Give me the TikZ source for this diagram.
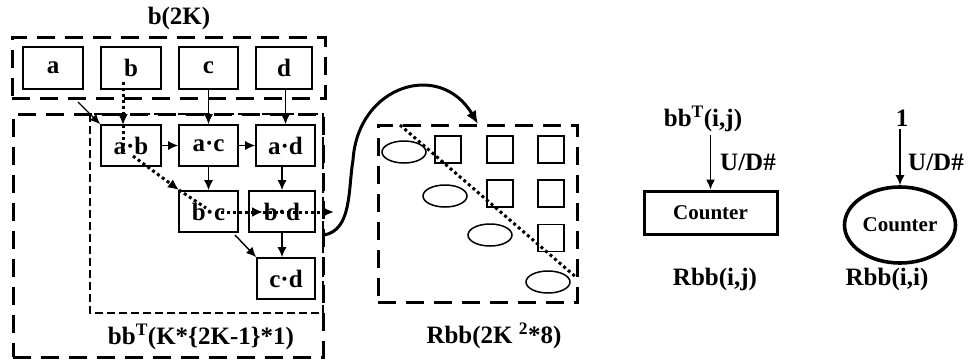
\documentclass[tikz,border=0pt]{standalone}
\usepackage{fontspec}
\setmainfont{Liberation Serif}
\usetikzlibrary{arrows.meta,shapes.geometric}
\begin{document}
\begin{tikzpicture}[x=1pt,y=-1pt,
  font=\fontsize{25}{29}\selectfont\bfseries,
  cell/.style={draw,line width=1.6pt,rectangle,inner sep=0pt,minimum height=41pt},
  bigdash/.style={draw,line width=3pt,dash pattern=on 18pt off 10pt,rectangle,inner sep=0pt},
  thindash/.style={draw,line width=1.1pt,dash pattern=on 8pt off 4pt},
  arr/.style={line width=1.4pt,-{Latex[length=10pt,width=9pt]}},
  dotarr/.style={line width=3pt,dash pattern=on 3pt off 3pt,-{Latex[length=11pt,width=10pt]}},
  dotline/.style={line width=3pt,dash pattern=on 3pt off 3pt},
  sq/.style={draw,line width=1.5pt,rectangle,inner sep=0pt,minimum width=26pt,minimum height=27pt},
  ell/.style={draw,line width=1.5pt,ellipse,inner sep=0pt,minimum width=44pt,minimum height=22pt},
  lbl/.style={inner sep=0pt}]
\useasboundingbox (0,0) rectangle (969,360);

% top group
\node[lbl] (title) at (179,18) {b(2K)};
\node[bigdash,minimum width=313pt,minimum height=61pt] (topbox) at (168.5,67.5) {};
\node[cell,minimum width=60pt,minimum height=42pt] (a) at (53,68) {a};
\node[cell,minimum width=60pt,minimum height=42pt] (b) at (131,68) {b};
\node[cell,minimum width=59pt,minimum height=42pt] (c) at (208.5,68) {c};
\node[cell,minimum width=56pt,minimum height=42pt] (d) at (284,68) {d};

% lower group
\node[bigdash,minimum width=310pt,minimum height=243pt] (bbt) at (168,235.5) {};
\draw[thindash] (90,114) rectangle (323,313);
\node[cell,minimum width=60pt] (ab) at (131,145.5) {a·b};
\node[cell,minimum width=59pt] (ac) at (208.5,145.5) {a·c};
\node[cell,minimum width=59pt] (ad) at (285.5,145.5) {a·d};
\node[cell,minimum width=59pt] (bc) at (208.5,211.5) {b·c};
\node[cell,minimum width=66pt] (bd) at (282,211.5) {b·d};
\node[cell,minimum width=58pt] (cd) at (286,278.5) {c·d};
\node[lbl] (bbtl) at (201,337) {bb\textsuperscript{T}(K*\{2K-1\}*1)};

% solid arrows
\coordinate (aout) at (78,102);
\draw[arr] (aout) -- (ab.north west);
\draw[arr] (ab.east) -- (ac.west);
\draw[arr] (ac.east) -- (ad.west);
\draw[arr] (c.south) -- (ac.north);
\draw[arr] (ad.north |- d.south) -- (ad.north);
\draw[arr] (ac.south) -- (bc.north);
\draw[arr] (bd.north |- ad.south) -- (bd.north);
\draw[arr] (bd.south) -- (bd.south |- cd.north);
\coordinate (bcout) at (235,235);
\draw[arr] (bcout) -- (cd.north west);

% dotted path
\coordinate (p1) at (123,82);
\coordinate (p2) at (123,125);
\coordinate (p3) at (123,152);
\coordinate (p4) at (133,156);
\coordinate (p5) at (179,190);
\coordinate (p6) at (206,208);
\coordinate (p7) at (221,212);
\coordinate (p8) at (263,212);
\coordinate (p9) at (293,212);
\coordinate (p10) at (334,212);
\draw[dotarr] (p1) -- (p2);
\draw[dotline] (p2) -- (p3);
\draw[dotarr] (p4) -- (p5);
\draw[dotline] (p5) -- (p6);
\draw[dotarr] (p7) -- (p8);
\draw[dotline] (p8) -- (p9);
\draw[dotarr] (p9) -- (p10);

% Rbb matrix
\node[bigdash,minimum width=199pt,minimum height=177pt] (rbb) at (477.5,213.5) {};
\node[sq] (s12) at (448,149.5) {};
\node[sq] (s13) at (500,149.5) {};
\node[sq] (s14) at (551,149.5) {};
\node[sq] (s23) at (500,193.5) {};
\node[sq] (s24) at (551,193.5) {};
\node[sq] (s34) at (551,238) {};
\node[ell] (e1) at (404,152) {};
\node[ell] (e2) at (445,196) {};
\node[ell] (e3) at (490,235) {};
\node[ell] (e4) at (548,282) {};
\coordinate (dg1) at (400,125);
\coordinate (dg2) at (577,278);
\draw[dotline] (dg1) -- (dg2);
\node[lbl] (rbbl) at (494,336) {Rbb(2K \textsuperscript{2}*8)};

% connecting curve
\coordinate (cs) at (324,235);
\coordinate (ce) at (478,124);
\draw[line width=3pt,-{Latex[length=13pt,width=11pt]}] (cs) .. controls (352,230) and (348,190) .. (353,160) .. controls (358,85) and (440,60) .. (ce);

% counters
\node[lbl] (in1) at (703,119) {bb\textsuperscript{T}(i,j)};
\node[draw,line width=3pt,rectangle,inner sep=0pt,minimum width=133pt,minimum height=43pt,font=\fontsize{21}{25}\selectfont\bfseries] (cnt1) at (710.5,212.5) {Counter};
\draw[arr] (cnt1.north |- in1.south) ++(0,3) -- (cnt1.north);
\node[lbl,anchor=west] (ud1) at (720,162) {U/D\#};
\node[lbl] (out1) at (715,279) {Rbb(i,j)};

\node[lbl] (in2) at (902,118) {1};
\node[draw,line width=3.6pt,ellipse,inner sep=0pt,minimum width=111pt,minimum height=76pt,font=\fontsize{21}{25}\selectfont\bfseries] (cnt2) at (900,225) {Counter};
\draw[arr] (cnt2.north |- in2.south) ++(0,3) -- (cnt2.north);
\node[lbl,anchor=west] (ud2) at (908,162) {U/D\#};
\node[lbl] (out2) at (887,279) {Rbb(i,i)};
\end{tikzpicture}
\end{document}
